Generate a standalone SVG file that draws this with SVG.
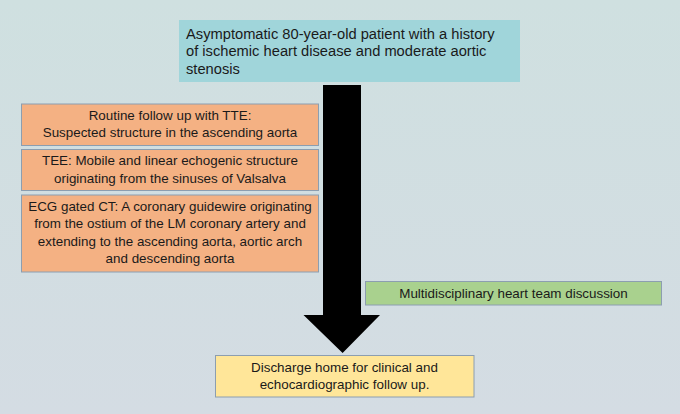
<svg xmlns="http://www.w3.org/2000/svg" width="680" height="414" viewBox="0 0 680 414">
<defs>
<linearGradient id="bg" x1="0" y1="0" x2="0" y2="1">
<stop offset="0" stop-color="#CFE0E0"/>
<stop offset="1" stop-color="#D4DCE3"/>
</linearGradient>
</defs>
<style>
.box{stroke:#8C9EB0;stroke-width:1}
.t{font-family:"Liberation Sans",Arial,sans-serif;font-size:14.7px;fill:#1a1a1a}
.c{font-family:"Liberation Sans",Arial,sans-serif;font-size:13.4px;fill:#1a1a1a;text-anchor:middle}
</style>
<rect x="0" y="0" width="680" height="414" fill="url(#bg)"/>
<g id="connectors">
<polygon points="323,85 361,85 361,315 380,315 342.6,353 303.5,315 323,315" fill="#000"/>
</g>
<g id="n-start">
<rect x="179" y="20" width="341" height="62" fill="#A0D5DA"/>
<text class="t" x="186" y="38.5">Asymptomatic 80-year-old patient with a history</text>
<text class="t" x="186" y="56">of ischemic heart disease and moderate aortic</text>
<text class="t" x="186" y="73.5">stenosis</text>
</g>
<g id="n-tte">
<rect class="box" x="21.5" y="104" width="297" height="41.5" fill="#F4B183"/>
<text class="c" x="170" y="119.5">Routine follow up with TTE:</text>
<text class="c" x="170" y="137">Suspected structure in the ascending aorta</text>
</g>
<g id="n-tee">
<rect class="box" x="21.5" y="149.5" width="297" height="41" fill="#F4B183"/>
<text class="c" x="170" y="165">TEE: Mobile and linear echogenic structure</text>
<text class="c" x="170" y="182.5">originating from the sinuses of Valsalva</text>
</g>
<g id="n-ct">
<rect class="box" x="21.5" y="195" width="297" height="77" fill="#F4B183"/>
<text class="c" x="170" y="210.5">ECG gated CT: A coronary guidewire originating</text>
<text class="c" x="170" y="228">from the ostium of the LM coronary artery and</text>
<text class="c" x="170" y="245.5">extending to the ascending aorta, aortic arch</text>
<text class="c" x="170" y="263">and descending aorta</text>
</g>
<g id="n-team">
<rect class="box" x="365.5" y="281.5" width="296" height="23.5" fill="#A9D18E"/>
<text class="c" x="513.5" y="297.5">Multidisciplinary heart team discussion</text>
</g>
<g id="n-discharge">
<rect class="box" x="215.5" y="355.5" width="258.5" height="41.5" fill="#FFE699"/>
<text class="c" x="344.5" y="371.5">Discharge home for clinical and</text>
<text class="c" x="344.5" y="389">echocardiographic follow up.</text>
</g>
</svg>
